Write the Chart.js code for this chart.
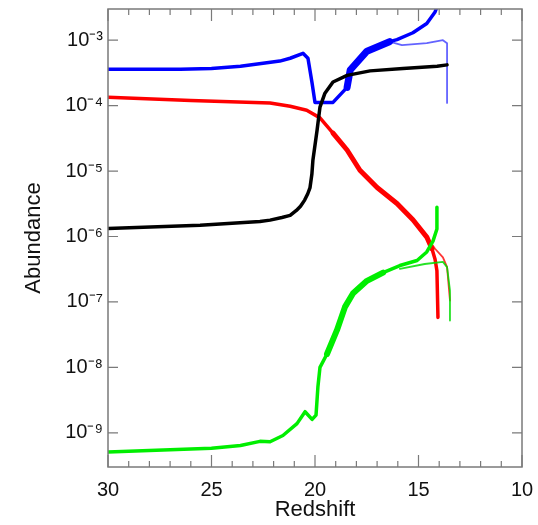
<!DOCTYPE html>
<html lang="en">
<head>
    <meta charset="UTF-8">
    <title>Abundance vs Redshift</title>
    <script src="https://cdn.jsdelivr.net/npm/chart.js"></script>
    <style>
        html, body { margin: 0; padding: 0; background: #fff; }
        #wrap { width: 538px; height: 525px; }
    </style>
</head>
<body>
<div id="wrap"><canvas id="abundanceChart"></canvas></div>
<script>
// redshift / abundance pairs
const blueZ = [30, 26.5, 25.0, 23.6, 22.6, 21.7, 21.2, 20.58, 20.34, 20.14, 20.0, 19.13, 18.45, 18.3, 17.49, 16.4, 16.04, 15.27, 14.6, 14.2, 14.0];
const blueY = [3.6e-4, 3.6e-4, 3.7e-4, 4.0e-4, 4.4e-4, 4.8e-4, 5.3e-4, 6.3e-4, 5.3e-4, 2.2e-4, 1.12e-4, 1.12e-4, 1.9e-4, 3.5e-4, 6.8e-4, 9.5e-4, 1.02e-3, 1.3e-3, 1.8e-3, 2.7e-3, 4e-3];
const blueThinZ = [16.4, 15.8, 14.6, 13.82, 13.62, 13.62];
const blueThinY = [9.5e-4, 8.4e-4, 9e-4, 1.0e-3, 9.0e-4, 1.1e-4];

const blackZ = [30, 25.55, 22.66, 22.17, 21.6, 21.2, 20.9, 20.7, 20.5, 20.35, 20.24, 20.15, 20.1, 19.9, 19.76, 19.52, 19.13, 18.45, 17.34, 15.75, 14.1, 13.62];
const blackY = [1.33e-6, 1.48e-6, 1.7e-6, 1.78e-6, 1.95e-6, 2.1e-6, 2.5e-6, 2.9e-6, 3.6e-6, 4.5e-6, 5.6e-6, 9e-6, 1.48e-5, 4.2e-5, 9.5e-5, 1.55e-4, 2.3e-4, 2.9e-4, 3.4e-4, 3.7e-4, 4e-4, 4.2e-4];

const redZ = [30, 26, 22.17, 21.2, 20.4, 19.76, 19.13, 18.45, 17.83, 17.0, 16.04, 15.27, 14.6, 14.35, 14.2, 14.11, 14.06];
const redY = [1.34e-4, 1.2e-4, 1.1e-4, 9.8e-5, 8.5e-5, 6.5e-5, 3.8e-5, 2.1e-5, 1.03e-5, 5.6e-6, 3.2e-6, 1.8e-6, 9.8e-7, 6.5e-7, 4.5e-7, 3e-7, 5.8e-8];
const redThinZ = [14.6, 14.2, 13.82, 13.62, 13.48];
const redThinY = [9.8e-7, 6.5e-7, 4.8e-7, 3.4e-7, 1.05e-7];

const greenZ = [30, 25.0, 23.6, 22.66, 22.17, 21.55, 20.87, 20.48, 20.14, 19.95, 19.86, 19.76, 19.42, 18.94, 18.55, 18.16, 17.49, 16.71, 15.9, 15.07, 14.6, 14.3, 14.11, 14.11];
const greenY = [5.1e-10, 5.8e-10, 6.4e-10, 7.4e-10, 7.3e-10, 9.1e-10, 1.38e-9, 2.1e-9, 1.6e-9, 1.86e-9, 5e-9, 1e-8, 1.6e-8, 3.7e-8, 8.4e-8, 1.36e-7, 2.1e-7, 2.8e-7, 3.6e-7, 4.3e-7, 5.8e-7, 8.5e-7, 1.3e-6, 2.8e-6];
const greenThinZ = [15.9, 14.7, 13.82, 13.62, 13.48, 13.48];
const greenThinY = [3.2e-7, 3.8e-7, 4.1e-7, 3.4e-7, 1.5e-7, 5.2e-8];

const xTickValues = [30, 25, 20, 15, 10];
const yTickValues = [1e-9, 1e-8, 1e-7, 1e-6, 1e-5, 1e-4, 1e-3];
const yTickLabels = ['10⁻⁹', '10⁻⁸', '10⁻⁷', '10⁻⁶', '10⁻⁵', '10⁻⁴', '10⁻³'];

const FONT = '"Liberation Sans", Arial, Helvetica, sans-serif';

function pairs(zs, ys) {
    return zs.map((z, i) => ({ x: z, y: ys[i] }));
}

// noisy stretches of the thick curves are drawn wider
function wideBetween(lo, hi, normal, wide) {
    return ctx => {
        const a = ctx.p0.parsed.x, b = ctx.p1.parsed.x;
        return (Math.min(a, b) < hi && Math.max(a, b) > lo) ? wide : normal;
    };
}

// inward ticks on all four sides plus the gray frame
const frameTicks = {
    id: 'frameTicks',
    afterDraw(chart) {
        const { ctx, chartArea: a, scales } = chart;
        ctx.save();
        ctx.strokeStyle = '#7a7a7a';
        ctx.lineWidth = 1.5;
        ctx.strokeRect(a.left, a.top, a.right - a.left, a.bottom - a.top);
        ctx.lineWidth = 1.2;
        ctx.beginPath();
        for (let z = 10; z <= 30; z++) {
            const px = scales.x.getPixelForValue(z);
            const len = z % 5 === 0 ? 12 : 6;
            ctx.moveTo(px, a.bottom); ctx.lineTo(px, a.bottom - len);
            ctx.moveTo(px, a.top); ctx.lineTo(px, a.top + len);
        }
        yTickValues.forEach(v => {
            const py = scales.y.getPixelForValue(v);
            ctx.moveTo(a.left, py); ctx.lineTo(a.left + 10, py);
            ctx.moveTo(a.right, py); ctx.lineTo(a.right - 10, py);
        });
        ctx.stroke();
        ctx.restore();
    }
};

const common = { pointRadius: 0, fill: false, tension: 0, borderJoinStyle: 'round', borderCapStyle: 'round' };

new Chart(document.getElementById('abundanceChart'), {
    type: 'line',
    data: {
        datasets: [
            Object.assign({ data: pairs(greenZ, greenY), borderColor: '#00ee00', borderWidth: 3.5, order: 0,
                segment: { borderWidth: wideBetween(17.2, 19.2, 3.5, 6) } }, common),
            Object.assign({ data: pairs(greenThinZ, greenThinY), borderColor: 'rgba(0,220,0,0.85)', borderWidth: 1.8, order: 1 }, common),
            Object.assign({ data: pairs(blackZ, blackY), borderColor: '#000000', borderWidth: 3.5, order: 2 }, common),
            Object.assign({ data: pairs(redZ, redY), borderColor: '#ff0000', borderWidth: 3.5, order: 3,
                segment: { borderWidth: wideBetween(14.4, 18.5, 3.5, 5) } }, common),
            Object.assign({ data: pairs(redThinZ, redThinY), borderColor: 'rgba(255,0,0,0.8)', borderWidth: 1.8, order: 4 }, common),
            Object.assign({ data: pairs(blueZ, blueY), borderColor: '#0000ff', borderWidth: 3.5, order: 5,
                segment: { borderWidth: wideBetween(16.6, 18.45, 3.5, 7) } }, common),
            Object.assign({ data: pairs(blueThinZ, blueThinY), borderColor: 'rgba(60,60,255,0.8)', borderWidth: 1.8, order: 6 }, common)
        ]
    },
    options: {
        responsive: true,
        maintainAspectRatio: false,
        animation: false,
        layout: { padding: { left: 0, top: 9, right: 16, bottom: 0 } },
        plugins: {
            legend: { display: false },
            tooltip: { enabled: false }
        },
        scales: {
            x: {
                type: 'linear',
                min: 10,
                max: 30,
                reverse: true,
                grid: { display: false, drawTicks: false },
                border: { display: false },
                afterBuildTicks: scale => { scale.ticks = xTickValues.map(v => ({ value: v })); },
                afterFit: scale => { scale.height = 58; scale.paddingLeft = 0; scale.paddingRight = 0; },
                ticks: { color: '#111', padding: 11, maxRotation: 0, font: { family: FONT, size: 20 } },
                title: { display: true, text: 'Redshift', color: '#111', padding: { top: 0, bottom: 2 }, font: { family: FONT, size: 22 } }
            },
            y: {
                type: 'logarithmic',
                min: 3e-10,
                max: 3e-3,
                grid: { display: false, drawTicks: false },
                border: { display: false },
                afterBuildTicks: scale => { scale.ticks = yTickValues.map(v => ({ value: v })); },
                afterFit: scale => { scale.width = 108; scale.paddingTop = 0; scale.paddingBottom = 0; },
                ticks: {
                    color: '#111',
                    padding: 5,
                    autoSkip: false,
                    font: { family: FONT, size: 20 },
                    callback: value => {
                        const i = yTickValues.findIndex(v => Math.abs(v - value) / v < 1e-6);
                        return i >= 0 ? yTickLabels[i] : '';
                    }
                },
                title: { display: true, text: 'Abundance', color: '#111', padding: { top: 21, bottom: 0 }, font: { family: FONT, size: 22 } }
            }
        }
    },
    plugins: [frameTicks]
});
</script>
</body>
</html>
